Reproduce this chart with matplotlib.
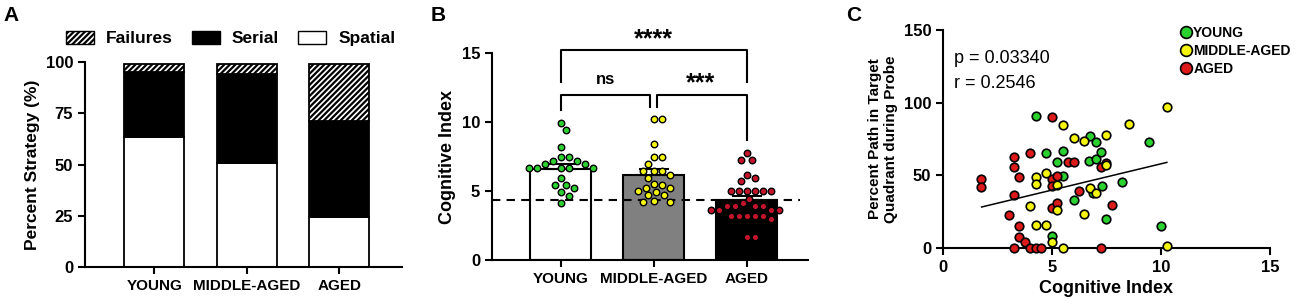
import numpy as np
import matplotlib
matplotlib.use("Agg")
import matplotlib.pyplot as plt
from matplotlib.patches import Patch
from matplotlib.lines import Line2D

plt.rcParams['font.family'] = ['Liberation Sans', 'DejaVu Sans']
plt.rcParams['font.weight'] = 'bold'
plt.rcParams['axes.labelweight'] = 'bold'
plt.rcParams['axes.linewidth'] = 1.5
plt.rcParams['hatch.linewidth'] = 1.6
plt.rcParams['xtick.major.width'] = 1.5
plt.rcParams['ytick.major.width'] = 1.5
plt.rcParams['xtick.major.size'] = 5
plt.rcParams['ytick.major.size'] = 5

GROUPS = ['YOUNG', 'MIDDLE-AGED', 'AGED']

# panel A - search strategy (%)
spatial = [63.5, 50.6, 24.5]
serial = [31.8, 43.7, 46.5]
failures = [3.9, 4.9, 28.2]

# panel B - cognitive index per animal
ci_young = [9.95, 9.45, 8.2, 7.45, 7.45, 7.2, 7.2, 6.95, 6.95, 6.7, 6.7, 6.7, 6.7,
            6.7, 5.95, 5.45, 5.45, 5.2, 4.95, 4.65, 4.15]
ci_middle = [10.25, 10.25, 8.45, 7.45, 7.45, 6.95, 6.45, 6.45, 6.45, 6.2, 5.95, 5.5,
             5.45, 5.25, 5.25, 5.0, 4.95, 4.7, 4.7, 4.25, 4.2, 4.2]
ci_aged = [7.75, 7.25, 7.25, 6.2, 5.95, 5.7, 5.0, 5.0, 5.0, 5.0, 5.0, 5.0, 4.45, 4.1,
           3.95, 3.95, 3.95, 3.95, 3.65, 3.65, 3.65, 3.65, 3.2, 3.2, 3.2, 3.2, 3.2,
           2.95, 1.7, 1.7]
ci_mean = [6.6, 6.15, 4.35]
ci_sem = [0.38, 0.44, 0.28]
ci_cutoff = 4.35

# panel C - cognitive index vs percent path in target quadrant
young_x = [4.27, 4.72, 5.5, 5.23, 5.5, 6.01, 6.76, 7.0, 6.71, 7.0, 7.26, 7.28, 6.9,
           7.5, 8.23, 9.47, 9.98, 5.01]
young_y = [91.0, 65.2, 67.0, 59.4, 49.5, 33.0, 77.0, 72.7, 59.9, 61.2, 65.8, 42.7,
           38.0, 20.2, 45.2, 72.7, 15.4, 8.5]
middle_x = [10.26, 8.52, 5.5, 6.01, 6.48, 7.5, 7.5, 4.72, 4.27, 4.27, 5.23, 6.76,
            7.0, 3.99, 5.23, 6.48, 4.27, 4.72, 5.01, 5.5, 10.26]
middle_y = [97.2, 85.5, 84.6, 75.5, 73.6, 77.8, 57.1, 51.8, 48.6, 44.0, 43.1, 41.5,
            38.0, 28.9, 26.1, 23.4, 15.8, 15.8, 4.4, 0.0, 1.6]
aged_x = [4.99, 1.74, 1.74, 3.26, 3.26, 3.5, 3.99, 3.26, 3.01, 3.5, 3.5, 3.76, 3.26,
          3.99, 4.27, 4.5, 4.99, 4.99, 5.23, 4.99, 5.23, 5.75, 6.01, 6.25, 7.25,
          7.74, 7.25, 7.5]
aged_y = [90.4, 47.5, 41.7, 62.8, 55.4, 49.1, 65.2, 36.4, 22.7, 15.4, 7.3, 4.4, 0.0,
          0.0, 0.0, 0.0, 47.7, 42.7, 49.5, 27.3, 31.2, 59.0, 59.0, 39.4, 55.5,
          29.6, 0.0, 58.5]
fit_x = [1.77, 10.27]
fit_y = [28.2, 58.9]
p_text = 'p = 0.03340'
r_text = 'r = 0.2546'

GREEN = '#2bd12f'
YELLOW = '#f4f40c'
RED_B = '#c4142b'
RED_C = '#dd1a1a'


def swarm(vals, center, sx, sy, d=8.0):
    # greedy beeswarm, distances in pixels
    placed = []
    xs = []
    fine = d / 6.0
    cands = [0.0]
    for i in range(1, 60):
        cands += [i * fine, -i * fine]
    for v in vals:
        for c in cands:
            ok = True
            for px, py in placed:
                if (c - px) ** 2 + ((v - py) * sy) ** 2 < d * d:
                    ok = False
                    break
            if ok:
                break
        placed.append((c, v))
        xs.append(center + c / sx)
    return xs


fig = plt.figure(figsize=(13, 3.07), dpi=100)

# ---------- A ----------
axA = fig.add_axes([0.0654, 0.1303, 0.2438, 0.6677])
xpos = np.arange(len(GROUPS))
w = 0.65
bot2 = np.array(spatial) + np.array(serial)
axA.bar(xpos, spatial, w, color='white', edgecolor='black', linewidth=1.3)
axA.bar(xpos, serial, w, bottom=spatial, color='black', edgecolor='black', linewidth=1.3)
axA.bar(xpos, failures, w, bottom=bot2, color='white', edgecolor='black',
        hatch='//////', linewidth=1.3)
axA.set_xlim(-0.75, 2.68)
axA.set_ylim(0, 100)
axA.set_yticks([0, 25, 50, 75, 100])
axA.set_xticks(xpos)
axA.set_xticklabels(GROUPS, fontsize=11)
axA.tick_params(axis='y', labelsize=12)
axA.set_ylabel('Percent Strategy (%)', fontsize=12.5)
for s in ['top', 'right']:
    axA.spines[s].set_visible(False)
hA = [Patch(facecolor='white', edgecolor='black', hatch='//////', label='Failures'),
      Patch(facecolor='black', edgecolor='black', label='Serial'),
      Patch(facecolor='white', edgecolor='black', label='Spatial')]
axA.legend(handles=hA, loc='lower center', bbox_to_anchor=(0.46, 1.0), ncol=3,
           frameon=False, fontsize=12.5, handlelength=1.6, handleheight=0.8,
           columnspacing=1.1, handletextpad=0.7)
fig.text(0.003, 0.95, 'A', fontsize=15, fontweight='bold', va='center')

# ---------- B ----------
axB = fig.add_axes([0.3785, 0.1531, 0.243, 0.6733])
axB.set_xlim(-0.74, 2.66)
axB.set_ylim(0, 15)
sx = 93.0
sy = 13.78
axB.bar(xpos, ci_mean, 0.66, color=['white', '#808080', 'black'],
        edgecolor='black', linewidth=1.5, zorder=1)
axB.errorbar(xpos, ci_mean, yerr=[[0, 0, 0], ci_sem], fmt='none', ecolor='black',
             elinewidth=1.5, capsize=11, capthick=1.5, zorder=2)
axB.hlines(ci_cutoff, -0.74, 2.57, color='black', lw=1.5, linestyles=(0, (4, 3)),
           zorder=3)
for i, (vals, col) in enumerate([(ci_young, GREEN), (ci_middle, YELLOW), (ci_aged, RED_B)]):
    xs = swarm(vals, xpos[i], sx, sy)
    axB.scatter(xs, vals, s=22, color=col, edgecolor='black', linewidth=1.0, zorder=4)
axB.set_yticks([0, 5, 10, 15])
axB.set_xticks(xpos)
axB.set_xticklabels(GROUPS, fontsize=11)
axB.tick_params(axis='y', labelsize=12)
axB.set_ylabel('Cognitive Index', fontsize=13)
for s in ['top', 'right']:
    axB.spines[s].set_visible(False)
# significance brackets
axB.plot([0, 0, 2, 2], [12.9, 15.25, 15.25, 12.9], color='black', lw=1.5, clip_on=False)
axB.text(1.0, 16.0, '****', ha='center', va='center', fontsize=18)
axB.plot([0, 0, 0.96, 0.96], [10.9, 11.95, 11.95, 11.1], color='black', lw=1.5)
axB.text(0.48, 13.1, 'ns', ha='center', va='center', fontsize=12)
axB.plot([1.04, 1.04, 2, 2], [11.1, 11.95, 11.95, 8.7], color='black', lw=1.5)
axB.text(1.5, 12.8, '***', ha='center', va='center', fontsize=18)
fig.text(0.331, 0.95, 'B', fontsize=15, fontweight='bold', va='center')

# ---------- C ----------
axC = fig.add_axes([0.7254, 0.1922, 0.2515, 0.7101])
axC.set_xlim(0, 15)
axC.set_ylim(0, 150)
axC.scatter(young_x, young_y, s=38, color=GREEN, edgecolor='black', linewidth=1.2,
            zorder=3, clip_on=False)
axC.scatter(aged_x, aged_y, s=38, color=RED_C, edgecolor='black', linewidth=1.2,
            zorder=4, clip_on=False)
axC.scatter(middle_x, middle_y, s=38, color=YELLOW, edgecolor='black', linewidth=1.2,
            zorder=5, clip_on=False)
axC.plot(fit_x, fit_y, color='black', lw=1.1, zorder=6)
axC.text(0.5, 130.5, p_text, fontsize=13, fontweight='normal', va='center')
axC.text(0.5, 113.5, r_text, fontsize=13, fontweight='normal', va='center')
axC.set_xticks([0, 5, 10, 15])
axC.set_yticks([0, 50, 100, 150])
axC.tick_params(labelsize=12)
axC.set_xlabel('Cognitive Index', fontsize=13)
axC.set_ylabel('Percent Path in Target\nQuadrant during Probe', fontsize=11)
for s in ['top', 'right']:
    axC.spines[s].set_visible(False)
hC = [Line2D([], [], marker='o', ls='none', markersize=8.5, markerfacecolor=c,
             markeredgecolor='black', markeredgewidth=1.2, label=l)
      for c, l in zip([GREEN, YELLOW, RED_C], GROUPS)]
axC.legend(handles=hC, loc='upper left', bbox_to_anchor=(1180 / 1300, 1 - 26 / 307),
           bbox_transform=fig.transFigure, frameon=False, fontsize=10,
           borderpad=0, handlelength=0.8, handletextpad=0.15, labelspacing=0.3,
           borderaxespad=0)
fig.text(0.651, 0.95, 'C', fontsize=15, fontweight='bold', va='center')

fig.savefig('out.png', dpi=100)
